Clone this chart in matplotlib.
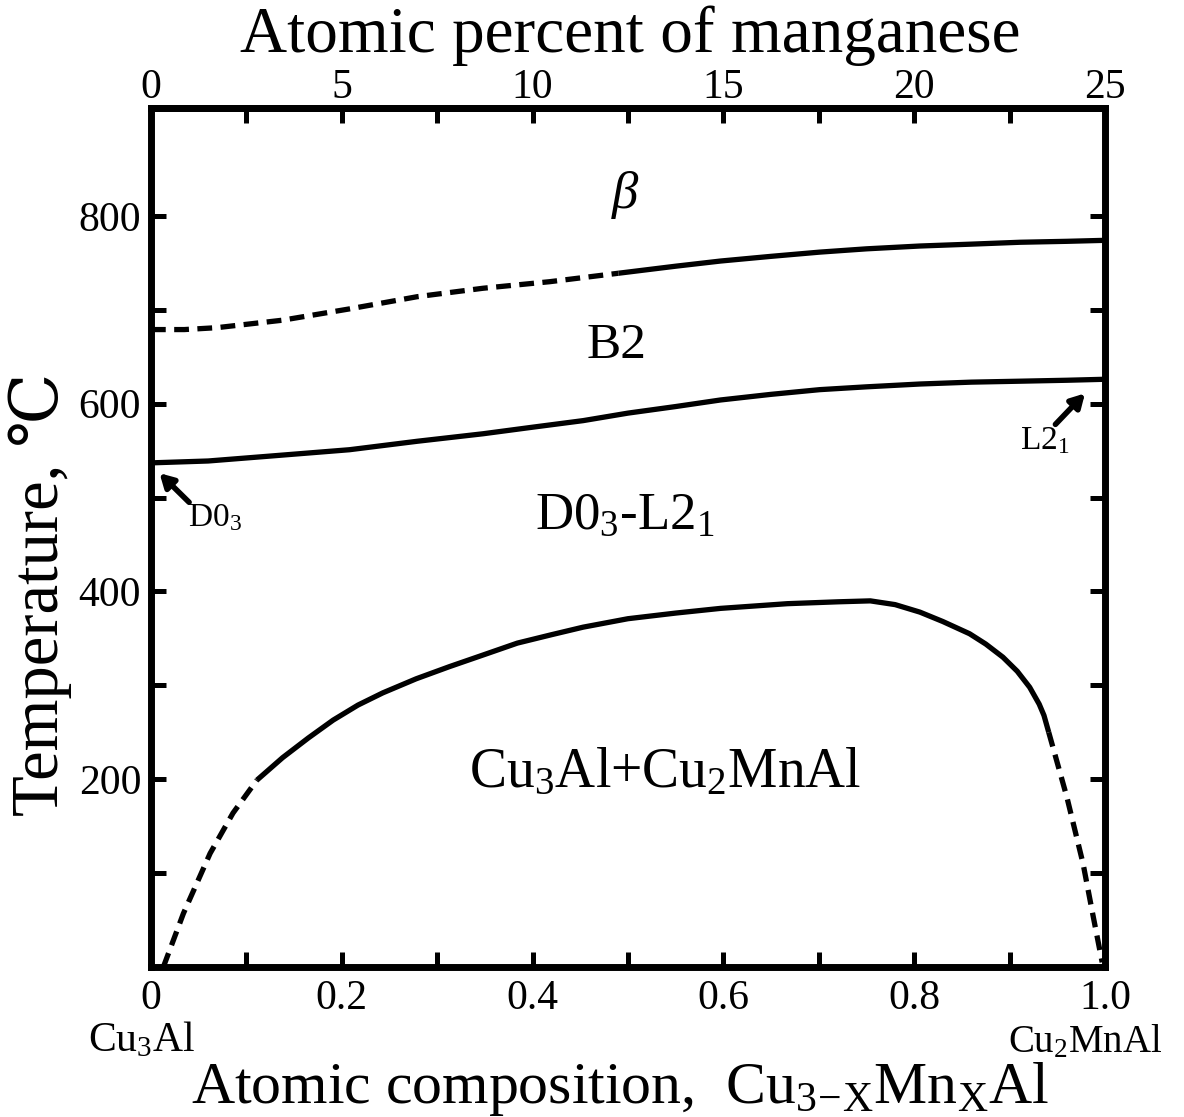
"""Cu3-xMnxAl pseudo-binary phase diagram (Cu3Al - Cu2MnAl section)."""
import matplotlib
matplotlib.use("Agg")
import matplotlib.pyplot as plt
from matplotlib.ticker import MultipleLocator, FixedLocator, FuncFormatter

# x = Mn content in Cu(3-x)Mn(x)Al, T in degC
BETA_B2_X_DASH = [0.0, 0.035, 0.069, 0.138, 0.208, 0.279, 0.348, 0.418, 0.49]
BETA_B2_T_DASH = [679, 679, 681, 689, 701, 714, 723, 730, 739]
BETA_B2_X_SOLID = [0.49, 0.55, 0.597, 0.65, 0.701, 0.75, 0.806, 0.86, 0.911, 0.96, 0.998]
BETA_B2_T_SOLID = [739, 746.5, 752, 757, 761.5, 765, 768, 770, 772, 773, 774]

B2_DO3_X = [0.0, 0.06, 0.122, 0.208, 0.279, 0.348, 0.40, 0.453, 0.50, 0.55, 0.597,
            0.65, 0.701, 0.75, 0.806, 0.86, 0.911, 0.96, 0.998]
B2_DO3_T = [537, 539, 544, 551, 560, 568, 575, 582, 590, 597, 604,
            610, 615, 618, 621, 623, 624, 625, 626]

DOME_X_DASH_L = [0.013, 0.034, 0.062, 0.086, 0.111]
DOME_T_DASH_L = [0, 57, 121, 164, 199]
DOME_X_SOLID = [0.111, 0.138, 0.165, 0.191, 0.217, 0.243, 0.278, 0.313, 0.35, 0.384, 0.42,
                0.453, 0.50, 0.55, 0.597, 0.667, 0.72, 0.754, 0.78, 0.806, 0.83, 0.858,
                0.875, 0.893, 0.908, 0.921, 0.931, 0.936, 0.941]
DOME_T_SOLID = [199, 223, 244, 263, 279, 292, 307, 320, 333, 345, 354,
                362, 371, 377, 382, 387, 389, 390, 386, 378, 368, 355,
                344, 330, 315, 298, 280, 268, 250]
DOME_X_DASH_R = [0.941, 0.960, 0.977, 0.987, 0.997]
DOME_T_DASH_R = [250, 181, 110, 57, 5]

REGION_LABELS = [  # (x, T, text, size)
    (0.497, 822, r"$\it{\beta}$", 38),
    (0.488, 662, "B2", 37),
    (0.497, 481, r"D0$_3$-L2$_1$", 38),
    (0.539, 206, r"Cu$_3$Al+Cu$_2$MnAl", 40),
]

plt.rcParams.update({
    "font.family": ["Liberation Serif", "DejaVu Serif", "DejaVu Sans"],
    "mathtext.fontset": "custom",
    "mathtext.rm": "Liberation Serif",
    "mathtext.it": "Liberation Serif:italic",
    "mathtext.bf": "Liberation Serif:bold",
})

fig = plt.figure(figsize=(11.84, 11.17), dpi=100)
ax = fig.add_axes([0.1275, 0.1343, 0.8058, 0.769])

LW = 3.8
dash = (0, (2.8, 1.6))
ax.plot(BETA_B2_X_DASH, BETA_B2_T_DASH, color="k", lw=LW, ls=dash, dash_capstyle="butt")
ax.plot(BETA_B2_X_SOLID, BETA_B2_T_SOLID, color="k", lw=LW, solid_capstyle="butt")
ax.plot(B2_DO3_X, B2_DO3_T, color="k", lw=LW, solid_capstyle="butt")
ax.plot(DOME_X_DASH_L, DOME_T_DASH_L, color="k", lw=LW, ls=dash, dash_capstyle="butt")
ax.plot(DOME_X_SOLID, DOME_T_SOLID, color="k", lw=LW, solid_capstyle="butt",
        solid_joinstyle="round")
ax.plot(DOME_X_DASH_R, DOME_T_DASH_R, color="k", lw=LW, ls=dash, dash_capstyle="butt")

for x, t, s, fs in REGION_LABELS:
    ax.text(x, t, s, fontsize=fs, ha="center", va="center")

arrow = dict(arrowstyle="-|>,head_length=0.8,head_width=0.45", lw=4, color="k",
             shrinkA=0, shrinkB=0)
ax.annotate("", xy=(0.009, 526), xytext=(0.040, 495), arrowprops=arrow)
ax.text(0.039, 479, r"D0$_3$", fontsize=24, ha="left", va="center")
ax.annotate("", xy=(0.979, 611), xytext=(0.948, 578), arrowprops=arrow)
ax.text(0.937, 561, r"L2$_1$", fontsize=24, ha="center", va="center")

ax.set_xlim(0, 1)
ax.set_ylim(0, 915)
ax.xaxis.set_major_locator(MultipleLocator(0.2))
ax.xaxis.set_minor_locator(MultipleLocator(0.1))
ax.xaxis.set_major_formatter(FuncFormatter(lambda v, _: "0" if abs(v) < 1e-9 else f"{v:.1f}"))
ax.yaxis.set_major_locator(FixedLocator([200, 400, 600, 800]))
ax.yaxis.set_minor_locator(FixedLocator([100, 300, 500, 700]))
ax.tick_params(which="both", direction="in", length=11, width=3.6, right=True, top=False,
               labelsize=30)
ax.tick_params(axis="x", pad=9)
ax.tick_params(axis="y", pad=7)
for sp in ax.spines.values():
    sp.set_linewidth(5)

top = ax.secondary_xaxis("top", functions=(lambda x: x * 25, lambda p: p / 25))
top.xaxis.set_major_locator(FixedLocator([0, 5, 10, 15, 20, 25]))
top.xaxis.set_minor_locator(FixedLocator([2.5, 7.5, 12.5, 17.5, 22.5]))
top.tick_params(which="both", direction="in", length=11, width=3.6, labelsize=30, pad=1)
top.spines["top"].set_linewidth(5)

trans = ax.get_xaxis_transform()
ax.text(-0.01, -0.086, r"Cu$_3$Al", transform=trans, fontsize=30, ha="center", va="center")
ax.text(0.979, -0.088, r"Cu$_2$MnAl", transform=trans, fontsize=28, ha="center", va="center")

fig.text(630 / 1184, 1 - 52 / 1117, "Atomic percent of manganese", fontsize=47,
         ha="center", va="baseline")
fig.text(620 / 1184, 1 - 1103 / 1117,
         r"Atomic composition,  Cu$_{\mathrm{3\!-\!X}}$Mn$_{\mathrm{X}}$Al",
         fontsize=43, ha="center", va="baseline")
fig.text(40 / 1184, 1 - 594 / 1117, "Temperature, ℃", fontsize=48, rotation=90,
         ha="center", va="center")

fig.savefig("out.png", dpi=100)
